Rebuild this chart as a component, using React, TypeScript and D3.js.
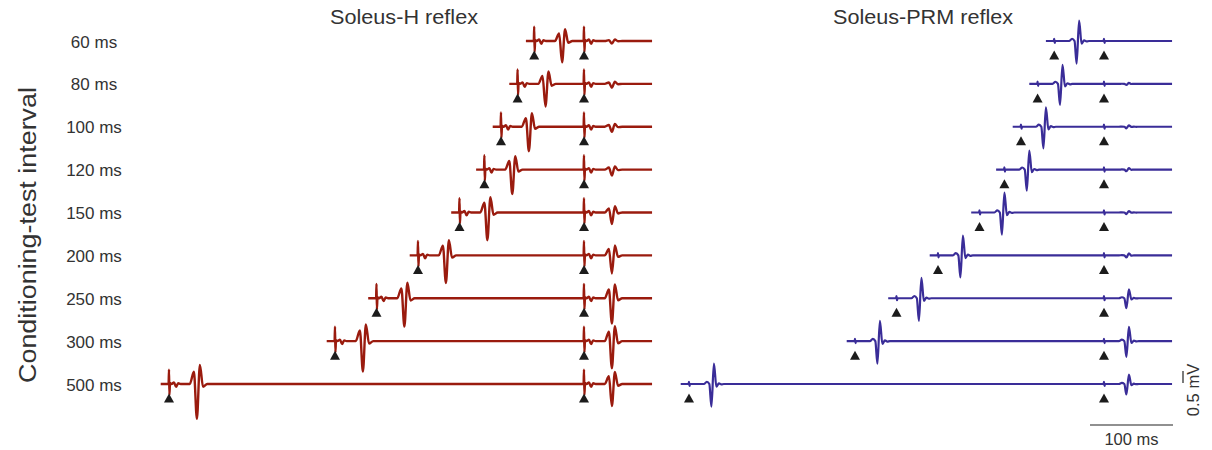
import React from "react";
import * as d3 from "d3";

// Conditioning-test intervals (ms) and row labels
const INTERVALS = [60, 80, 100, 120, 150, 200, 250, 300, 500];
const ROW_LABELS = ["60 ms", "80 ms", "100 ms", "120 ms", "150 ms", "200 ms", "250 ms", "300 ms", "500 ms"];

// Peak-to-peak amplitudes (mV)
const H_COND = [1.38, 1.46, 1.58, 1.58, 1.79, 1.79, 1.83, 1.96, 2.25];
const H_TEST = [0.17, 0.25, 0.33, 0.38, 0.75, 1.17, 1.63, 1.75, 1.42];
const PRM_COND = [1.79, 1.67, 1.71, 1.67, 1.75, 1.75, 1.79, 1.79, 1.79];
const PRM_TEST = [0.0, 0.08, 0.13, 0.13, 0.13, 0.17, 0.79, 1.25, 0.83];

// Waveform shapes: [ms after stimulus, value]
const H_ARTIFACT: [number, number][] = [
  [-0.5, 0], [0, 0.6], [0.5, -0.46], [1.2, 0.04], [3, 0], [6, 0.06], [8.5, -0.12], [11, 0.03], [14, 0],
];
const H_WAVE: [number, number][] = [
  [25, 0], [30, 0.35], [33.6, -1.0], [37.2, 0.55], [41, -0.08], [46, 0],
];
const PRM_ARTIFACT: [number, number][] = [
  [-0.5, 0], [0, 0.09], [0.6, -0.08], [1.2, 0],
];
const PRM_WAVE: [number, number][] = [
  [18, 0], [21.5, 0.1], [24.5, 0], [27, -1.0], [30, 0.9], [33, -0.12], [36, 0.03], [39, -0.02], [42, 0],
];

const PRE_MS = 10;
const POST_MS = 82;

const W = 1212;
const H = 450;
const FONT = "'Liberation Sans', Arial, Helvetica, sans-serif";
const RED = "#9a1b0e";
const BLUE = "#3a2d98";
const TEXT = "#333333";

const xLeft = d3.scaleLinear().domain([-500, 0]).range([169, 584]);
const xRight = d3.scaleLinear().domain([-500, 0]).range([689, 1104]);
const yRow = d3.scalePoint<number>().domain(INTERVALS).range([41, 384]);
const vScale = d3.scaleLinear().domain([0, 1]).range([0, -24]);

function buildTrace(
  interval: number,
  condAmp: number,
  testAmp: number,
  artifact: [number, number][],
  wave: [number, number][]
): [number, number][] {
  const vals = wave.map((d) => d[1]);
  const norm = (d3.max(vals) as number) - (d3.min(vals) as number);
  const pts: [number, number][] = [[-interval - PRE_MS, 0]];
  const add = (t0: number, tpl: [number, number][], s: number) =>
    tpl.forEach(([dt, v]) => pts.push([t0 + dt, v * s]));
  add(-interval, artifact, 1);
  add(-interval, wave, condAmp / norm);
  add(0, artifact, 1);
  add(0, wave, testAmp / norm);
  pts.push([POST_MS, 0]);
  pts.sort((a, b) => a[0] - b[0]);
  const out: [number, number][] = [];
  pts.forEach((p) => {
    if (out.length && Math.abs(out[out.length - 1][0] - p[0]) < 1e-6) return;
    out.push(p);
  });
  return out;
}

function Panel({
  x,
  cond,
  test,
  artifact,
  wave,
  color,
  width,
}: {
  x: d3.ScaleLinear<number, number>;
  cond: number[];
  test: number[];
  artifact: [number, number][];
  wave: [number, number][];
  color: string;
  width: number;
}) {
  return (
    <g>
      {INTERVALS.map((iv, i) => {
        const y0 = yRow(iv) as number;
        const pts = buildTrace(iv, cond[i], test[i], artifact, wave);
        const line = d3
          .line<[number, number]>()
          .x((d) => x(d[0]))
          .y((d) => y0 + vScale(d[1]))
          .curve(d3.curveMonotoneX);
        const tri = (t: number) => {
          const cx = x(t);
          return `M${cx},${y0 + 9.5}L${cx + 5},${y0 + 18.5}L${cx - 5},${y0 + 18.5}Z`;
        };
        return (
          <g key={iv}>
            <path d={line(pts) || ""} fill="none" stroke={color} strokeWidth={width} strokeLinejoin="round" />
            <path d={tri(-iv)} fill="#1c1c1c" />
            <path d={tri(0)} fill="#1c1c1c" />
          </g>
        );
      })}
    </g>
  );
}

export default function App() {
  const barX0 = 1090;
  const barX1 = barX0 + (xRight(100) - xRight(0));
  const vBarBottom = 383;
  const vBarTop = vBarBottom + vScale(0.5);
  return (
    <svg
      width={W}
      height={H}
      style={{ position: "absolute", left: 0, top: 0, background: "#ffffff" }}
      fontFamily={FONT}
    >
      <rect x={0} y={0} width={W} height={H} fill="#ffffff" />
      <text x={404} y={24} textAnchor="middle" fontSize={20} fill={TEXT} textLength={148} lengthAdjust="spacingAndGlyphs">
        Soleus-H reflex
      </text>
      <text x={923} y={24} textAnchor="middle" fontSize={20} fill={TEXT} textLength={180} lengthAdjust="spacingAndGlyphs">
        Soleus-PRM reflex
      </text>
      <text
        transform={`translate(36,235) rotate(-90)`}
        textAnchor="middle"
        fontSize={23}
        fill={TEXT}
        textLength={296}
        lengthAdjust="spacingAndGlyphs"
      >
        Conditioning-test interval
      </text>
      {INTERVALS.map((iv, i) => (
        <text key={iv} x={94} y={(yRow(iv) as number) + 6.5} textAnchor="middle" fontSize={17} fill={TEXT}>
          {ROW_LABELS[i]}
        </text>
      ))}
      <Panel x={xLeft} cond={H_COND} test={H_TEST} artifact={H_ARTIFACT} wave={H_WAVE} color={RED} width={2.4} />
      <Panel x={xRight} cond={PRM_COND} test={PRM_TEST} artifact={PRM_ARTIFACT} wave={PRM_WAVE} color={BLUE} width={2.2} />
      {/* scale bars */}
      <line x1={barX0} x2={barX1} y1={425} y2={425} stroke="#222" strokeWidth={1.2} />
      <text x={(barX0 + barX1) / 2} y={445} textAnchor="middle" fontSize={16.5} fill={TEXT}>
        100 ms
      </text>
      <line x1={1183} x2={1183} y1={vBarTop} y2={vBarBottom} stroke="#222" strokeWidth={1.2} />
      <text transform={`translate(1199,390) rotate(-90)`} textAnchor="middle" fontSize={16.5} fill={TEXT}>
        0.5 mV
      </text>
    </svg>
  );
}
